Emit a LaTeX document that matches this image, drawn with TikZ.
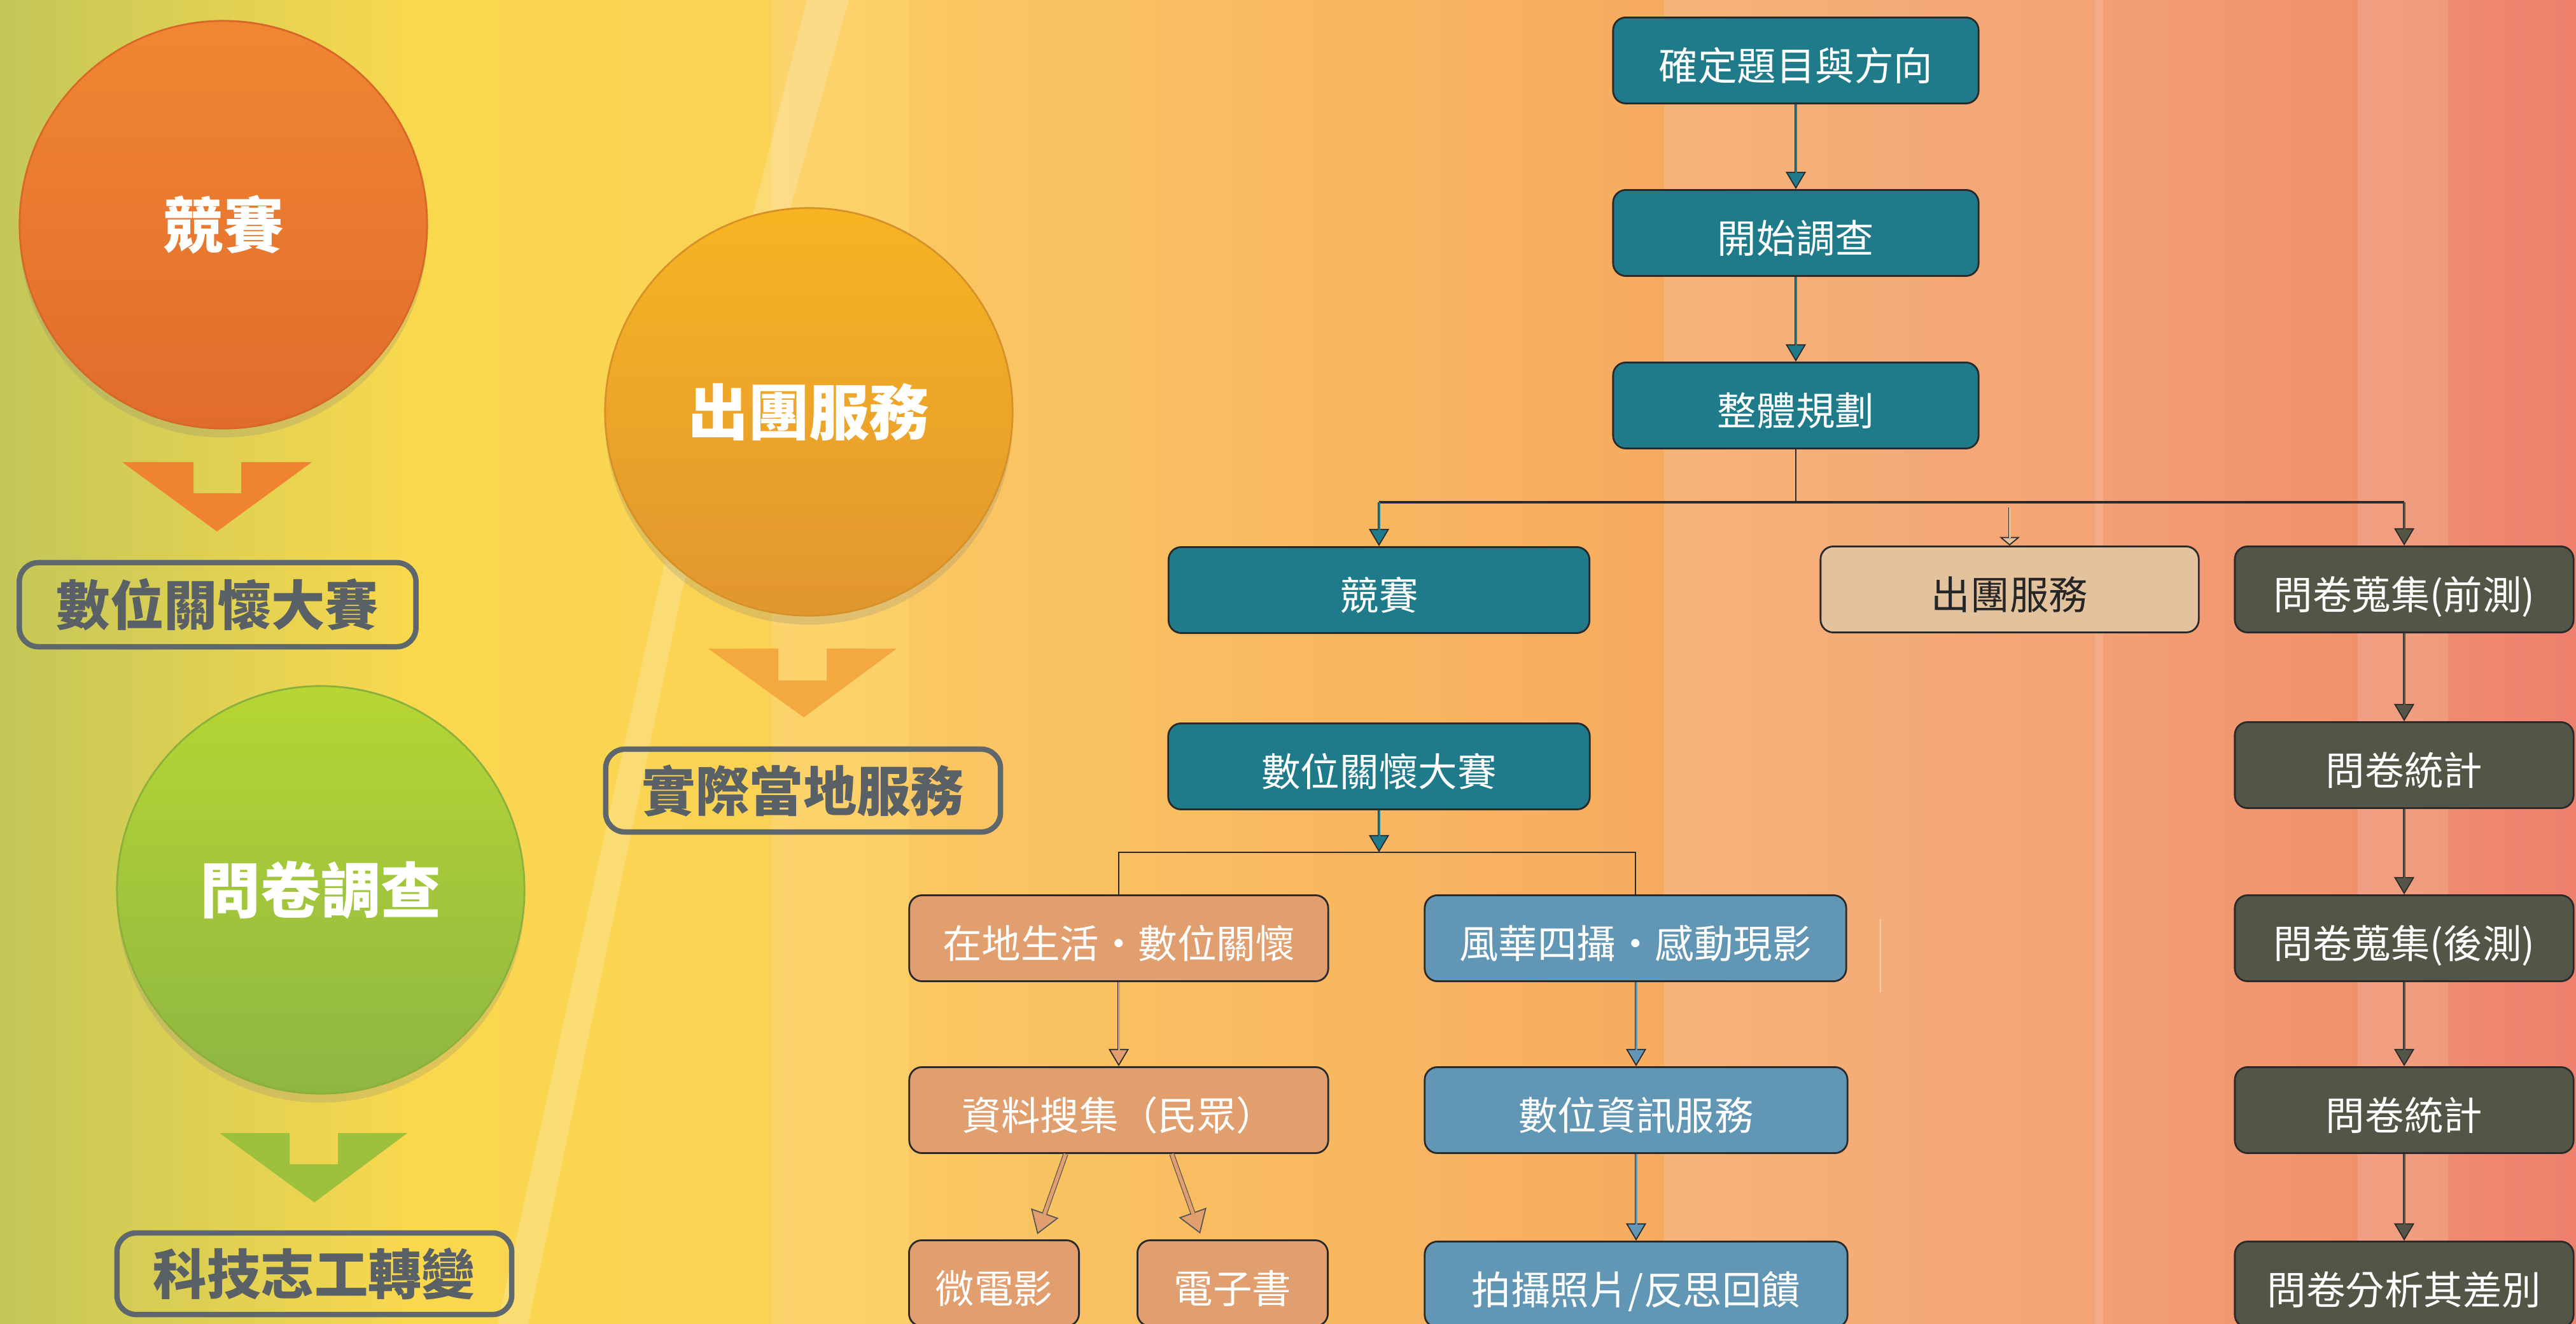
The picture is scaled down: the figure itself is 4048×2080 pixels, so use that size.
\documentclass[tikz,border=0pt]{standalone}
\usepackage{fontspec}
\newfontfamily\cjk{Noto Sans CJK TC}
\usetikzlibrary{arrows.meta,shadows,calc}
\definecolor{tealc}{HTML}{1F7B8A}
\definecolor{tanc}{HTML}{E2C39E}
\definecolor{salc}{HTML}{E19E6E}
\definecolor{bluec}{HTML}{6196B4}
\definecolor{greyc}{HTML}{535646}
\definecolor{edgec}{HTML}{2A2A2A}
\definecolor{oboxc}{HTML}{5E676C}
\definecolor{otextc}{HTML}{5A6166}
\definecolor{orA}{HTML}{F08332}
\definecolor{orB}{HTML}{F3A93F}
\definecolor{grC}{HTML}{9DC13D}
% background
\definecolor{bg0}{HTML}{C3C758}
\definecolor{bg1}{HTML}{F9D84E}
\definecolor{bg2}{HTML}{FBD254}
\definecolor{bg3}{HTML}{FCD46C}
\definecolor{bg4}{HTML}{FCCF68}
\definecolor{bg5}{HTML}{FAC862}
\definecolor{bg6}{HTML}{F7AB5F}
\definecolor{bg7}{HTML}{F6B47A}
\definecolor{bg8}{HTML}{F3A374}
\definecolor{bg9}{HTML}{F4AC84}
\definecolor{bg10}{HTML}{F29F76}
\definecolor{bg11}{HTML}{F1916C}
\definecolor{bg12}{HTML}{F19F82}
\definecolor{bg13}{HTML}{F09A7C}
\definecolor{bg14}{HTML}{EF8A72}
\definecolor{bg15}{HTML}{EE806C}
% circles
\definecolor{caT}{HTML}{F18632}
\definecolor{caB}{HTML}{E16C2C}
\definecolor{caE}{HTML}{D66828}
\definecolor{cbT}{HTML}{F7B422}
\definecolor{cbB}{HTML}{E29630}
\definecolor{cbE}{HTML}{D69228}
\definecolor{ccT}{HTML}{B6D634}
\definecolor{ccB}{HTML}{8EB642}
\definecolor{ccE}{HTML}{8CB03C}
\tikzset{
  flowbox/.style={draw=edgec, line width=0.8pt, rounded corners=0.2cm, minimum height=1.35cm,
    inner sep=0pt, text=white, text height=0.7cm, text depth=0.07cm,
    font=\cjk\fontsize{17.5pt}{20pt}\selectfont},
  tealbox/.style={flowbox, fill=tealc},
  tanbox/.style={flowbox, fill=tanc, text=black!85},
  salbox/.style={flowbox, fill=salc},
  bluebox/.style={flowbox, fill=bluec},
  greybox/.style={flowbox, fill=greyc, minimum width=5.32cm},
  obox/.style={draw=oboxc, line width=2.4pt, rounded corners=0.3cm, inner sep=0pt,
    minimum width=6.2cm, minimum height=1.3cm, text=otextc,
    font=\cjk\bfseries\fontsize{24pt}{28pt}\selectfont},
  bigcircle/.style={circle, minimum size=6.4cm, inner sep=0pt, line width=0.8pt, text=white,
    font=\cjk\bfseries\fontsize{27pt}{30pt}\selectfont,
    drop shadow={shadow xshift=0pt, shadow yshift=-4pt, opacity=0.22}},
  farr/.style={draw=edgec, line width=1.3pt,
    -{Triangle[width=9pt,length=7.7pt,fill=#1,line width=0.5pt]},
    postaction={draw=#1, line width=0.85pt, -, shorten >=7pt}},
  tanarr/.style={draw=edgec, line width=1.3pt,
    -{Triangle[width=9pt,length=3.8pt,fill=tanc,line width=0.5pt]},
    postaction={draw=tanc, line width=0.85pt, -, shorten >=3.5pt}},
  diagarr/.style={draw=edgec!80, line width=2.3pt,
    -{Triangle[width=13pt,length=10pt,fill=salc,line width=0.5pt]},
    postaction={draw=salc, line width=1.6pt, -, shorten >=9.5pt}},
  branch/.style={draw=edgec, line width=0.6pt},
  branchthick/.style={draw=edgec, line width=0.9pt},
}
\begin{document}
\begin{tikzpicture}[x=0.01cm, y=-0.01cm]
\useasboundingbox (0,0) rectangle (4048,2080);
\clip (0,0) rectangle (4048,2080);
% ---------- background bands ----------
\shade[left color=bg0, right color=bg1] (-1,0) rectangle (646,2080);
\shade[left color=bg1, right color=bg2] (645,0) rectangle (1214,2080);
\shade[left color=bg3, right color=bg4] (1213,0) rectangle (1429,2080);
\shade[left color=bg5, right color=bg6] (1428,0) rectangle (2616,2080);
\shade[left color=bg7, right color=bg8] (2615,0) rectangle (3293,2080);
\fill[bg9] (3292,0) rectangle (3306,2080);
\shade[left color=bg10, right color=bg11] (3305,0) rectangle (3706,2080);
\shade[left color=bg12, right color=bg13] (3705,0) rectangle (3848,2080);
\shade[left color=bg14, right color=bg15] (3847,0) rectangle (4049,2080);
% diagonal light stripe
\fill[white, opacity=0.2] (1268,0) -- (1334,0) -- (1072,928) -- (830,2080) -- (782,2080) -- (1034,928) -- cycle;
\draw[white, opacity=0.45, line width=0.5pt] (2955,1444) -- (2955,1559);
% ---------- left side ----------
\node[bigcircle, top color=caT, bottom color=caB, draw=caE] (ca) at (351,353) {競賽};
\fill[orA] (192,726) -- (304,726) -- (304,775) -- (379,775) -- (379,726) -- (490,726) -- (341,835) -- cycle;
\node[obox, minimum width=6.23cm, minimum height=1.32cm] (oa) at (342,950) {數位關懷大賽};

\node[bigcircle, top color=cbT, bottom color=cbB, draw=cbE] (cb) at (1271,647) {出團服務};
\fill[orB] (1113,1019) -- (1223,1019) -- (1223,1069) -- (1299,1069) -- (1299,1019) -- (1409,1019) -- (1263,1127) -- cycle;
\node[obox] (ob) at (1262,1242) {實際當地服務};

\node[bigcircle, top color=ccT, bottom color=ccB, draw=ccE] (cc) at (504,1398) {問卷調查};
\fill[grC] (345,1780) -- (455,1780) -- (455,1829) -- (531,1829) -- (531,1780) -- (640,1780) -- (494,1889) -- cycle;
\node[obox, minimum height=1.28cm] (oc) at (494,2001) {科技志工轉變};
% ---------- flow chart ----------
\node[tealbox, minimum width=5.74cm] (t1) at (2822,95) {確定題目與方向};
\node[tealbox, minimum width=5.74cm] (t2) at (2822,366) {開始調查};
\node[tealbox, minimum width=5.74cm] (t3) at (2822,637) {整體規劃};

\node[tealbox, minimum width=6.61cm] (c1) at (2167,927) {競賽};
\node[tanbox, minimum width=5.94cm] (s1) at (3158,926) {出團服務};
\node[greybox] (g1) at (3778,926) {問卷蒐集(前測)};

\node[tealbox, minimum width=6.62cm] (c2) at (2167,1204) {數位關懷大賽};
\node[greybox] (g2) at (3778,1202) {問卷統計};

\node[salbox, minimum width=6.58cm] (l1) at (1758,1474) {在地生活‧數位關懷};
\node[bluebox, minimum width=6.62cm] (b1) at (2570,1474) {風華四攝‧感動現影};
\node[greybox] (g3) at (3778,1474) {問卷蒐集(後測)};

\node[salbox, minimum width=6.58cm] (l2) at (1758,1744) {資料搜集（民眾）};
\node[bluebox, minimum width=6.64cm] (b2) at (2571,1744) {數位資訊服務};
\node[greybox] (g4) at (3778,1744) {問卷統計};

\node[salbox, minimum width=2.67cm] (l3) at (1562,2016) {微電影};
\node[salbox, minimum width=2.99cm] (l4) at (1937,2016) {電子書};
\node[bluebox, minimum width=6.64cm] (b3) at (2571,2018) {拍攝照片/反思回饋};
\node[greybox] (g5) at (3778,2018) {問卷分析其差別};

% connectors
\draw[farr=tealc] (t1) -- (t2);
\draw[farr=tealc] (t2) -- (t3);
\coordinate (j1) at (2822,789);
\draw[branch] (t3.south) -- (j1);
\draw[branchthick] (c1.north |- j1) -- (g1.north |- j1);
\draw[farr=tealc] (c1.north |- j1) -- (c1.north);
\draw[tanarr] ($(s1.north |- j1)+(0,8)$) -- (s1.north);
\draw[farr=greyc] (g1.north |- j1) -- (g1.north);

\coordinate (j2) at (2167,1339);
\draw[farr=tealc] (c2.south) -- (j2);
\draw[branch] (l1.north) |- (j2) -| (b1.north);
\draw[farr=salc] (l1) -- (l2);
\draw[diagarr] ($(l2.south west)!0.374!(l2.south east)$) -- ($(l3.north)+(68,-8)$);
\draw[diagarr] ($(l2.south west)!0.626!(l2.south east)$) -- ($(l4.north)+(-51,-9)$);
\draw[farr=bluec] (b1.south -| b2.north) -- (b2.north);
\draw[farr=bluec] (b2) -- (b3);

\draw[farr=greyc] (g1) -- (g2);
\draw[farr=greyc] (g2) -- (g3);
\draw[farr=greyc] (g3) -- (g4);
\draw[farr=greyc] (g4) -- (g5);
\end{tikzpicture}
\end{document}
